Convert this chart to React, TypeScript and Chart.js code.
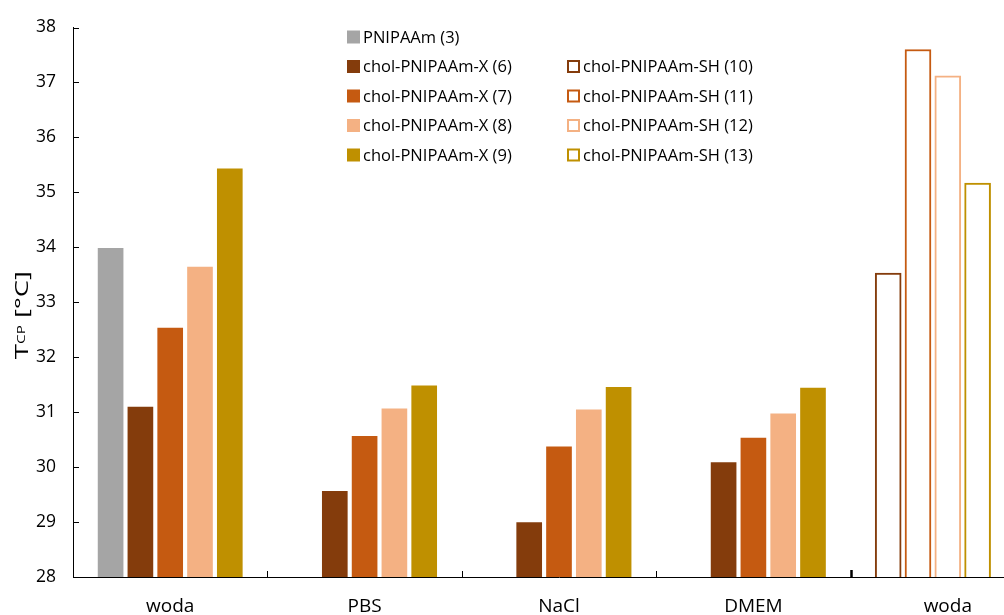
import React, { useEffect, useRef } from "react";
import { Chart, registerables } from "chart.js";

Chart.register(...registerables);

const categories = ["woda", "PBS", "NaCl", "DMEM", "woda"];

const pnipaam3 = [33.98, null, null, null, null];
const cholX6 = [31.09, 29.56, 28.99, 30.08, null];
const cholX7 = [32.53, 30.56, 30.37, 30.53, null];
const cholX8 = [33.64, 31.06, 31.04, 30.97, null];
const cholX9 = [35.43, 31.48, 31.45, 31.44, null];
const cholSH10 = [null, null, null, null, 33.53];
const cholSH11 = [null, null, null, null, 37.6];
const cholSH12 = [null, null, null, null, 37.12];
const cholSH13 = [null, null, null, null, 35.17];

const yMin = 28;
const yMax = 38;

const FONT = "'Open Sans', 'Noto Sans', sans-serif";

const COL_GRAY = "#A5A5A5";
const COL_6 = "#843C0C";
const COL_7 = "#C55A11";
const COL_8 = "#F4B183";
const COL_9 = "#BF9000";

const filled = (label: string, data: (number | null)[], color: string, stack: string) => ({
  label,
  data,
  stack,
  backgroundColor: color,
  borderWidth: 0,
  barThickness: 29.8,
  maxBarThickness: 25,
  outline: false,
});

const hollow = (label: string, data: (number | null)[], color: string, stack: string) => ({
  label,
  data,
  stack,
  backgroundColor: "#ffffff",
  borderColor: color,
  borderWidth: 2,
  borderSkipped: false,
  barThickness: 29.8,
  maxBarThickness: 26,
  outline: true,
});

const customPlugin = {
  id: "custom",
  afterDatasetsDraw(chart: any) {
    const { ctx, chartArea, scales } = chart;
    const x = scales.x;
    const y = scales.y;
    ctx.save();
    ctx.strokeStyle = "#000";
    ctx.lineWidth = 1;
    // inward y ticks
    y.ticks.forEach((t: any) => {
      const py = Math.round(y.getPixelForValue(t.value)) + 0.5;
      ctx.beginPath();
      ctx.moveTo(chartArea.left, py);
      ctx.lineTo(chartArea.left + 6, py);
      ctx.stroke();
    });
    // inward x ticks at category boundaries
    for (let i = 0; i < categories.length - 1; i++) {
      const px = Math.round((x.getPixelForTick(i) + x.getPixelForTick(i + 1)) / 2) + 0.5;
      ctx.lineWidth = i === categories.length - 2 ? 2.5 : 1;
      ctx.beginPath();
      ctx.moveTo(px, chartArea.bottom);
      ctx.lineTo(px, chartArea.bottom - (i === categories.length - 2 ? 7 : 6));
      ctx.stroke();
    }
    ctx.restore();
  },
  afterDraw(chart: any) {
    const { ctx } = chart;
    ctx.save();
    // legend
    ctx.font = `16.5px ${FONT}`;
    ctx.textBaseline = "middle";
    ctx.fillStyle = "#000";
    const ds = chart.data.datasets;
    const rowY = (r: number) => 37 + r * 29.5;
    let leftRow = 0;
    let rightRow = 1;
    ds.forEach((d: any) => {
      if (!d.outline) {
        const cy = rowY(leftRow++);
        ctx.fillStyle = d.backgroundColor;
        ctx.fillRect(347, cy - 6.5, 13, 13);
        ctx.fillStyle = "#000";
        ctx.fillText(d.label, 363, cy + 1);
      } else {
        const cy = rowY(rightRow++);
        ctx.strokeStyle = d.borderColor;
        ctx.lineWidth = 2;
        ctx.strokeRect(568, cy - 5.5, 11, 11);
        ctx.fillStyle = "#000";
        ctx.fillText(d.label, 583, cy + 1);
      }
    });
    ctx.restore();

    // y-axis title with subscript (horizontally stretched, as in the reference)
    ctx.save();
    const mainFont = `19px ${FONT}`;
    const subFont = `10.5px ${FONT}`;
    ctx.fillStyle = "#000";
    ctx.font = mainFont;
    const wT = ctx.measureText("T").width;
    const wRest = ctx.measureText(" [°C]").width;
    ctx.font = subFont;
    const wSub = ctx.measureText("CP").width;
    const total = wT + wSub + wRest;
    const stretch = 1.45;
    ctx.translate(28, 315);
    ctx.rotate(-Math.PI / 2);
    ctx.scale(stretch, 1);
    ctx.textBaseline = "alphabetic";
    ctx.textAlign = "left";
    let cx = -total / 2;
    ctx.font = mainFont;
    ctx.fillText("T", cx, 0);
    cx += wT;
    ctx.font = subFont;
    ctx.fillText("CP", cx, -3);
    cx += wSub;
    ctx.font = mainFont;
    ctx.fillText(" [°C]", cx, 0);
    ctx.restore();
  },
};

export default function App() {
  const ref = useRef<HTMLCanvasElement | null>(null);

  useEffect(() => {
    if (!ref.current) return;
    const chart = new Chart(ref.current, {
      type: "bar",
      data: {
        labels: categories,
        datasets: [
          filled("PNIPAAm (3)", pnipaam3, COL_GRAY, "s0"),
          filled("chol-PNIPAAm-X (6)", cholX6, COL_6, "s1"),
          filled("chol-PNIPAAm-X (7)", cholX7, COL_7, "s2"),
          filled("chol-PNIPAAm-X (8)", cholX8, COL_8, "s3"),
          filled("chol-PNIPAAm-X (9)", cholX9, COL_9, "s4"),
          hollow("chol-PNIPAAm-SH (10)", cholSH10, COL_6, "s0"),
          hollow("chol-PNIPAAm-SH (11)", cholSH11, COL_7, "s1"),
          hollow("chol-PNIPAAm-SH (12)", cholSH12, COL_8, "s2"),
          hollow("chol-PNIPAAm-SH (13)", cholSH13, COL_9, "s3"),
        ] as any,
      },
      options: {
        responsive: false,
        animation: false,
        devicePixelRatio: 1,
        layout: { padding: { top: 24, right: 0, bottom: 0, left: 0 } },
        plugins: {
          legend: { display: false },
          tooltip: { enabled: false },
        },
        scales: {
          x: {
            stacked: true,
            grid: { display: true, drawOnChartArea: false, drawTicks: false, color: "rgba(0,0,0,0)" },
            border: { display: true, color: "#000", width: 1 },
            ticks: {
              color: "#000",
              font: { family: FONT, size: 19 },
              padding: 18,
              maxRotation: 0,
              autoSkip: false,
            },
            afterFit: (s: any) => {
              s.height = 38;
            },
          },
          y: {
            stacked: false,
            min: yMin,
            max: yMax,
            grid: { display: true, drawOnChartArea: false, drawTicks: false, color: "rgba(0,0,0,0)" },
            border: { display: true, color: "#000", width: 1 },
            ticks: {
              stepSize: 1,
              color: "#000",
              font: { family: FONT, size: 17.5 },
              padding: 17,
            },
            afterFit: (s: any) => {
              s.width = 73;
            },
          },
        },
      },
      plugins: [customPlugin],
    });
    return () => chart.destroy();
  }, []);

  return (
    <div
      style={{
        position: "fixed",
        left: 0,
        top: 0,
        width: 1004,
        height: 615,
        overflow: "hidden",
        background: "#fff",
      }}
    >
      <canvas ref={ref} width={1045} height={615} style={{ display: "block" }} />
    </div>
  );
}
